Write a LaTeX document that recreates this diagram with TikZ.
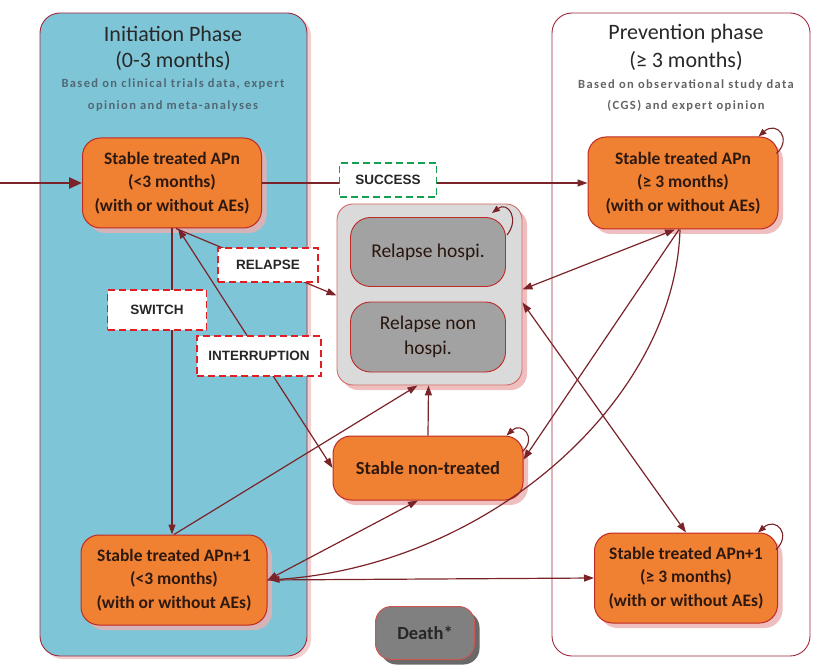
\documentclass[tikz,border=0pt]{standalone}
\usepackage{fontspec}
\setmainfont{Carlito}
\newfontfamily\arialfont{Liberation Sans}
\newfontfamily\subfont[LetterSpace=11]{Carlito}
\usetikzlibrary{arrows.meta,shadows,calc}
\definecolor{panelblue}{RGB}{126,198,215}
\definecolor{panelborder}{RGB}{160,40,60}
\definecolor{nodeorange}{RGB}{240,128,50}
\definecolor{nodeborder}{RGB}{190,42,38}
\definecolor{nodetext}{RGB}{45,25,15}
\definecolor{arrowc}{RGB}{122,36,42}
\definecolor{shpink}{RGB}{235,175,175}
\definecolor{grpfill}{RGB}{218,218,218}
\definecolor{relfill}{RGB}{162,162,162}
\definecolor{deathfill}{RGB}{128,128,128}
\definecolor{titlec}{RGB}{40,40,40}
\definecolor{subblue}{RGB}{80,104,116}
\definecolor{subgray}{RGB}{100,100,100}
\definecolor{dashred}{RGB}{225,30,35}
\definecolor{dashgreen}{RGB}{20,160,80}
\begin{document}
\begin{tikzpicture}[x=1pt,y=-1pt,
  panel/.style={rectangle,rounded corners=20pt,draw=panelborder,line width=0.9pt},
  ttl/.style={font=\fontsize{22}{26}\selectfont,text=titlec},
  sub/.style={font=\subfont\bfseries\fontsize{12.5}{15}\selectfont},
  st/.style={rectangle,rounded corners=18pt,draw=nodeborder,line width=1pt,fill=nodeorange,
    align=center,text=nodetext,font=\bfseries\fontsize{17.5}{23.5}\selectfont,inner sep=2pt,
    drop shadow={shadow xshift=5pt,shadow yshift=-5pt,fill=shpink,opacity=0.8}},
  grp/.style={rectangle,rounded corners=16pt,draw=nodeborder!70,line width=0.9pt,fill=grpfill,
    drop shadow={shadow xshift=5pt,shadow yshift=-5pt,fill=shpink,opacity=0.8}},
  rel/.style={rectangle,rounded corners=20pt,draw=nodeborder,line width=0.9pt,fill=relfill,
    align=center,text=nodetext!90!black,font=\fontsize{19.5}{25}\selectfont,inner sep=2pt,
    minimum width=155pt},
  death/.style={rectangle,rounded corners=16pt,draw=nodeborder!80,line width=1pt,fill=deathfill,
    text=black!85,font=\bfseries\fontsize{18.5}{20}\selectfont,minimum width=99pt,minimum height=53pt,
    drop shadow={shadow xshift=5pt,shadow yshift=-5pt,fill=black!65,opacity=0.9}},
  lab/.style={rectangle,fill=white,line width=1.8pt,dash pattern=on 7pt off 4pt,
    font=\arialfont\bfseries\fontsize{13.5}{15}\selectfont,text=black!85},
  arr/.style={draw=arrowc,line width=1.2pt,-{Triangle[length=10pt,width=7pt]}},
  darr/.style={draw=arrowc,line width=1.2pt,{Triangle[length=10pt,width=7pt]}-{Triangle[length=10pt,width=7pt]}},
  loopa/.style={draw=arrowc,line width=1.1pt,-{Triangle[length=8pt,width=6pt]}}
]
\useasboundingbox (0,0) rectangle (814,671);

% panels
\fill[shpink,opacity=0.6,rounded corners=20pt] (43,16) rectangle (311,659);
\node[panel,fill=panelblue,minimum width=267pt,minimum height=643pt] (P1) at (173.5,334.5) {};
\node[panel,fill=white,minimum width=258pt,minimum height=643pt] (P2) at (681,334.5) {};

% titles
\node[ttl] (t1) at (173,34) {Initiation Phase};
\node[ttl] (t1b) at (173,61) {(0-3 months)};
\node[sub,text=subblue] (s1) at (173,84) {Based on clinical trials data, expert};
\node[sub,text=subblue] (s1b) at (173,106) {opinion and meta-analyses};
\node[ttl] (t2) at (686,34) {Prevention phase};
\node[ttl] (t2b) at (686,61) {(≥ 3 months)};
\node[sub,text=subgray] (s2) at (686,85) {Based on observational study data};
\node[sub,text=subgray] (s2b) at (686,106) {(CGS) and expert opinion};

% relapse group
\node[grp,minimum width=185pt,minimum height=181pt] (G) at (429.5,294.5) {};
\node[rel,minimum height=69pt] (RH) at (428,252) {Relapse hospi.};
\node[rel,minimum height=70pt] (RN) at (428,337) {Relapse non\\hospi.};

% state nodes
\node[st,minimum width=179pt,minimum height=90pt] (A) at (172,183) {Stable treated APn\\(<3 months)\\(with or without AEs)};
\node[st,minimum width=190pt,minimum height=92pt] (B) at (683,183) {Stable treated APn\\(≥ 3 months)\\(with or without AEs)};
\node[st,minimum width=190pt,minimum height=64pt,font=\bfseries\fontsize{18.5}{23.5}\selectfont] (N) at (428,468) {Stable non-treated};
\node[st,minimum width=186pt,minimum height=90pt] (C) at (174,580) {Stable treated APn+1\\(<3 months)\\(with or without AEs)};
\node[st,minimum width=183pt,minimum height=90pt] (D) at (686,578) {Stable treated APn+1\\(≥ 3 months)\\(with or without AEs)};
\node[death] (X) at (425,633) {Death*};

% entry
\coordinate (E) at (0,183);
\draw[draw=arrowc,line width=2.6pt,-{Triangle[length=13pt,width=11pt]}] (E) -- (A.west);

% connectors
\draw[arr] (A.east) -- (B.west);
\draw[arr] ([xshift=4pt]A.south) -- ([yshift=-1pt]G.west);
\draw[darr] ([xshift=6pt]A.south) -- (N.west);
\draw[arr] (A.south) -- (A.south |- C.north);
\draw[arr] (C.north) -- ([xshift=-12pt]G.south);
\draw[arr] (N.north) -- ([xshift=-1pt]G.south);
\draw[darr] (C.east) -- ([xshift=-10pt]N.south);
\draw[arr] (C.east) -- (D.west);
\draw[darr] ([xshift=-8pt]B.south) -- ([yshift=5pt]G.east);
\draw[darr] ([yshift=-8pt]G.east) -- (D.north);
\draw[arr] ([xshift=-4pt]B.south) -- (N.5);
\draw[arr] ([xshift=-3pt]B.south) .. controls (675,400) and (490,565) .. ([xshift=2pt]C.east);

% self loops
\draw[loopa] ($(B.north east)+(-2,17)$) .. controls ($(B.north east)+(14,2)$) and ($(B.north east)+(-2,-16)$) .. ($(B.north east)+(-20,0)$);
\draw[loopa] ($(RH.north east)+(1,18)$) .. controls ($(RH.north east)+(14,2)$) and ($(RH.north east)+(2,-16)$) .. ($(RH.north east)+(-14,-4)$);
\draw[loopa] ($(N.north east)+(-1,16)$) .. controls ($(N.north east)+(14,2)$) and ($(N.north east)+(-2,-14)$) .. ($(N.north east)+(-17,0)$);
\draw[loopa] ($(D.north east)+(-2,17)$) .. controls ($(D.north east)+(14,2)$) and ($(D.north east)+(-2,-16)$) .. ($(D.north east)+(-20,0)$);

% labels
\node[lab,draw=dashgreen,minimum width=97pt,minimum height=34pt] (L1) at (388,180) {SUCCESS};
\node[lab,draw=dashred,minimum width=100pt,minimum height=34pt] (L2) at (268,265) {RELAPSE};
\node[lab,draw=dashred,minimum width=99pt,minimum height=40pt] (L3) at (157,310) {SWITCH};
\node[lab,draw=dashred,minimum width=124pt,minimum height=40pt] (L4) at (259,356) {INTERRUPTION};
\end{tikzpicture}
\end{document}
